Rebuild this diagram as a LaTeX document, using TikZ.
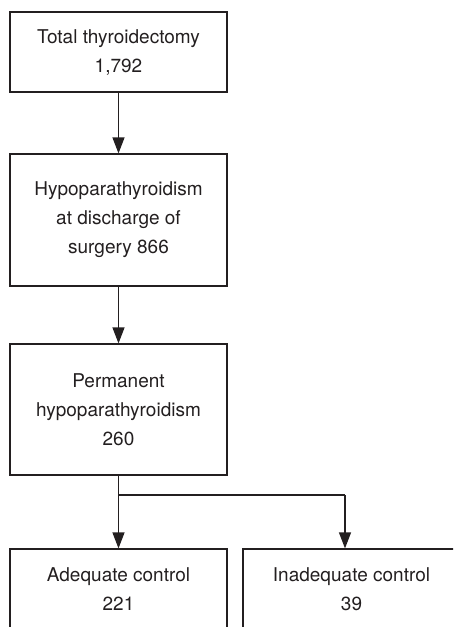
\documentclass[tikz,border=0pt]{standalone}
\usepackage{fontspec}
\setmainfont{TeX Gyre Heros}
\usetikzlibrary{arrows.meta}
\definecolor{ink}{HTML}{231F20}
\begin{document}
\begin{tikzpicture}[x=1pt,y=1pt,
  box/.style={draw=ink, line width=1.2pt, rectangle, minimum width=217pt, inner sep=0pt, align=center, text=ink, font=\fontsize{19}{29}\selectfont},
  arr/.style={draw=ink, line width=1.2pt, -{Triangle[width=12pt,length=16pt]}},
  ln/.style={draw=ink, line width=1.2pt}]
\useasboundingbox (0,0) rectangle (453,-627);
\clip (0,0) rectangle (453,-627);
\node[box, minimum height=80pt] (a) at (118.5,-52) {Total thyroidectomy\\1,792};
\node[box, minimum height=132pt] (b) at (118.5,-220) {Hypoparathyroidism\\at discharge of\\surgery 866};
\node[box, minimum height=131pt] (c) at (118.5,-409.5) {Permanent\\hypoparathyroidism\\260};
\node[box, minimum height=80pt] (d) at (118.5,-589) {Adequate control\\221};
\node[box, minimum height=80pt] (e) at (351.5,-589) {Inadequate control\\39};
\draw[arr] (a) -- (b);
\draw[arr] (b) -- (c);
\coordinate (j) at (118.5,-495);
\coordinate (k) at (345,-495);
\draw[ln] (c.south) -- (j) -- (k);
\draw[arr] (c.south) -- (d.north);
\draw[arr] (k) -- (k |- e.north);
\end{tikzpicture}
\end{document}
